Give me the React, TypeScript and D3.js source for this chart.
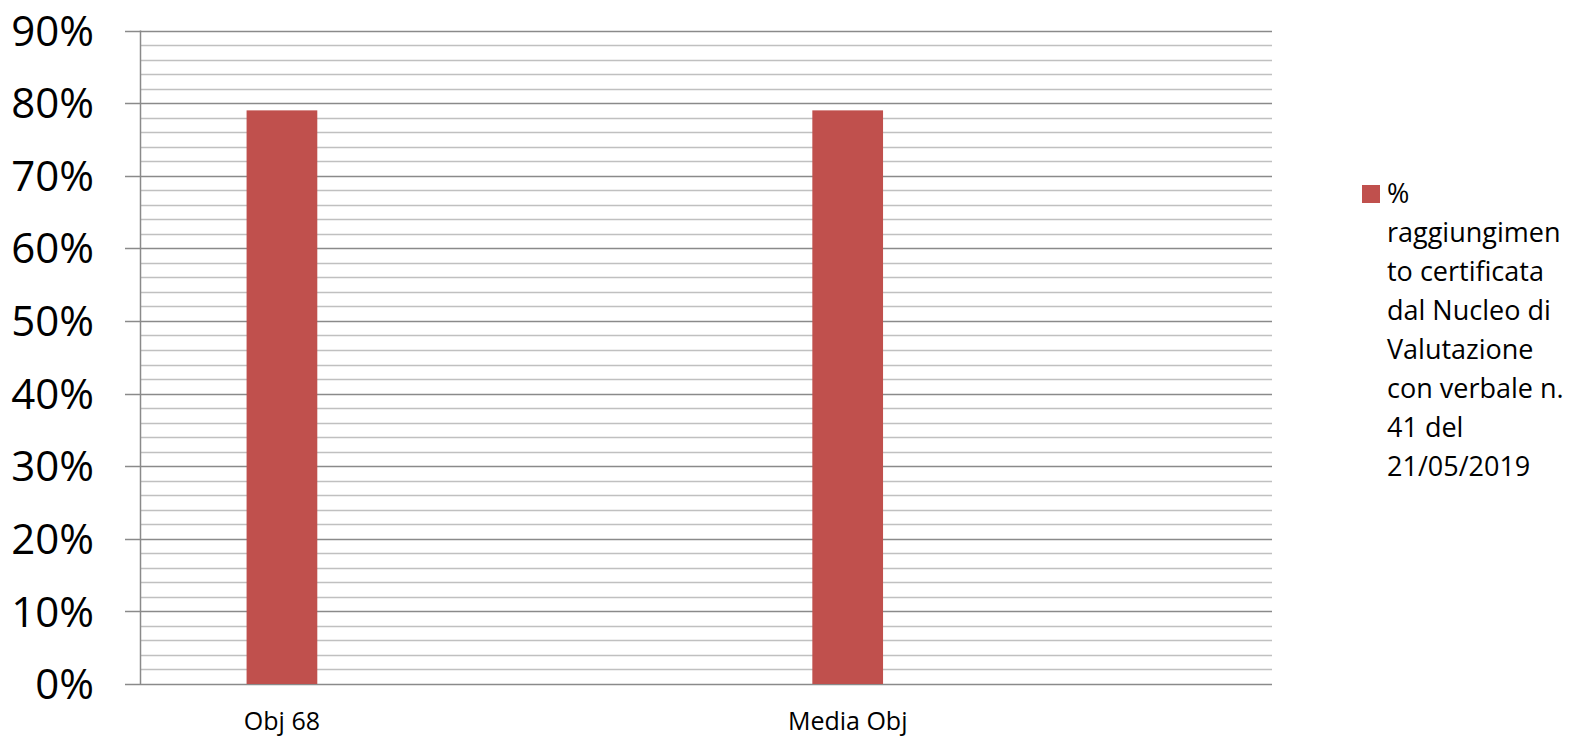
import React from "react";
import * as d3 from "d3";

const categories = ["Obj 68", "", "Media Obj", ""];
const values: (number | null)[] = [0.79, null, 0.79, null];
const yTicks = [0, 0.1, 0.2, 0.3, 0.4, 0.5, 0.6, 0.7, 0.8, 0.9];
const legendLines = [
  "%",
  "raggiungimen",
  "to certificata",
  "dal Nucleo di",
  "Valutazione",
  "con verbale n.",
  "41 del",
  "21/05/2019",
];

const W = 1573;
const H = 737;
const left = 140.5;
const right = 1272;
const top = 30.5;
const bottom = 684;
const font = "'Open Sans', sans-serif";

export default function App() {
  const x = d3.scaleBand<number>().domain(d3.range(categories.length)).range([left, right]).paddingInner(0).paddingOuter(0);
  const y = d3.scaleLinear().domain([0, 0.9]).range([bottom, top]);
  const minor = d3.range(0, 0.9001, 0.02).filter((v) => Math.abs(v * 10 - Math.round(v * 10)) > 1e-6);
  const barW = x.bandwidth() / 4;

  return (
    <svg width={W} height={H} style={{ position: "absolute", left: 0, top: 0, background: "#fff" }}>
      {minor.map((v, i) => (
        <line key={"m" + i} x1={left} x2={right} y1={Math.round(y(v)) + 0.5} y2={Math.round(y(v)) + 0.5} stroke="#c0c0c0" strokeWidth={1.5} />
      ))}
      {yTicks.map((v, i) => (
        <line key={"M" + i} x1={125} x2={right} y1={Math.round(y(v)) + 0.5} y2={Math.round(y(v)) + 0.5} stroke="#8a8a8a" strokeWidth={1.5} />
      ))}
      <line x1={left} x2={left} y1={top} y2={bottom} stroke="#8a8a8a" strokeWidth={1.5} />
      {values.map((v, i) =>
        v == null ? null : (
          <rect
            key={"b" + i}
            x={x(i)! + x.bandwidth() / 2 - barW / 2}
            y={y(v)}
            width={barW}
            height={bottom - y(v)}
            fill="#C0504D"
          />
        )
      )}
      {yTicks.map((v, i) => (
        <text key={"t" + i} x={94} y={y(v)} dy="0.36em" textAnchor="end" fontFamily={font} fontSize={42} fill="#000">
          {Math.round(v * 100) + "%"}
        </text>
      ))}
      {categories.map((c, i) => (
        <text key={"c" + i} x={x(i)! + x.bandwidth() / 2} y={730} textAnchor="middle" fontFamily={font} fontSize={25} fill="#000">
          {c}
        </text>
      ))}
      <rect x={1362} y={185} width={18} height={18} fill="#C0504D" />
      {legendLines.map((l, i) => (
        <text key={"l" + i} x={1387} y={203 + i * 39} fontFamily={font} fontSize={27} fill="#000">
          {l}
        </text>
      ))}
    </svg>
  );
}
